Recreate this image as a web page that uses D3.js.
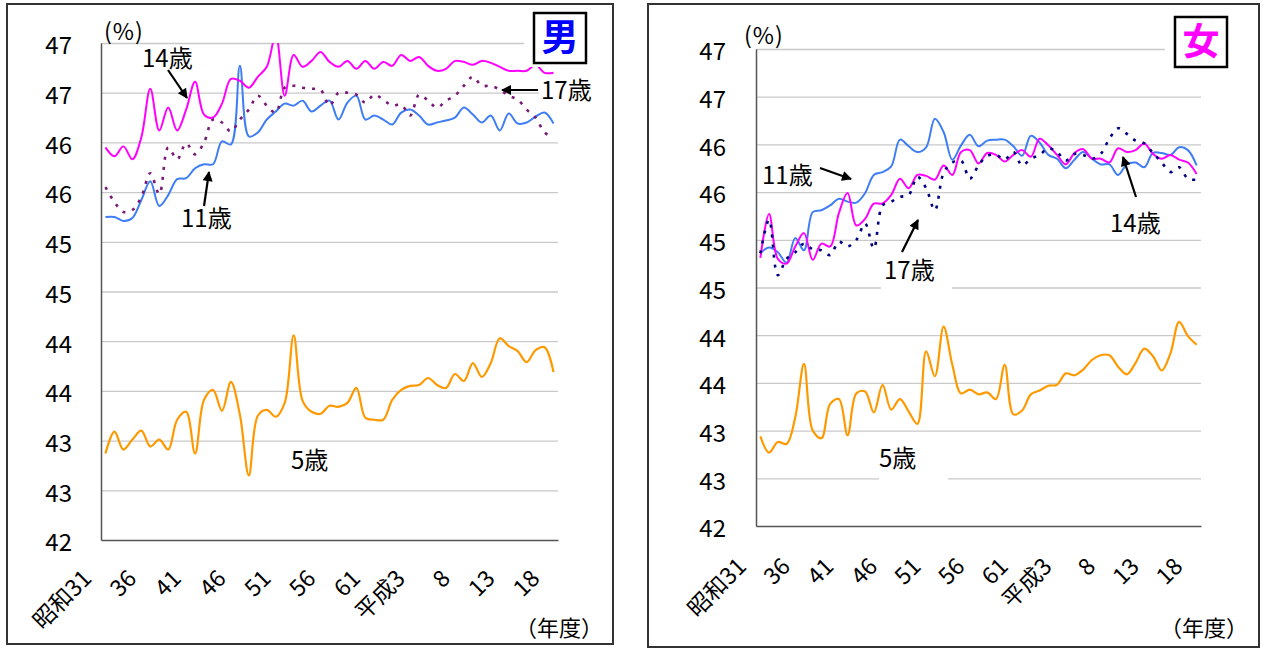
<!DOCTYPE html>
<html><head><meta charset="utf-8">
<script src="https://cdn.jsdelivr.net/npm/d3@7"></script>
<style>
body{margin:0;background:#fff;}
svg text{font-family:"Noto Sans CJK JP","Noto Sans",sans-serif;fill:#000;}
</style></head><body>
<svg id="c" width="1263" height="648"></svg>
<script>
const categories = ["昭和31","昭和32","昭和33","昭和34","昭和35","昭和36","昭和37","昭和38","昭和39","昭和40",
"昭和41","昭和42","昭和43","昭和44","昭和45","昭和46","昭和47","昭和48","昭和49","昭和50",
"昭和51","昭和52","昭和53","昭和54","昭和55","昭和56","昭和57","昭和58","昭和59","昭和60",
"昭和61","昭和62","昭和63","平成元","平成2","平成3","平成4","平成5","平成6","平成7",
"平成8","平成9","平成10","平成11","平成12","平成13","平成14","平成15","平成16","平成17","平成18"];
const xTickCats = ["昭和31","昭和36","昭和41","昭和46","昭和51","昭和56","昭和61","平成3","平成8","平成13","平成18"];
const xTickLabels = ["昭和31","36","41","46","51","56","61","平成3","8","13","18"];
const yTicks = [42,42.5,43,43.5,44,44.5,45,45.5,46,46.5,47];
const yTickLabels = ["42","43","43","44","44","45","45","46","46","47","47"];

const male5 = [42.87,43.09,42.91,43.01,43.10,42.94,43.01,42.91,43.21,43.29,42.87,43.41,43.51,43.30,43.59,43.26,42.65,43.25,43.31,43.24,43.38,44.06,43.40,43.29,43.27,43.35,43.34,43.38,43.53,43.23,43.21,43.21,43.41,43.51,43.55,43.56,43.63,43.56,43.53,43.67,43.60,43.78,43.64,43.78,44.03,43.95,43.90,43.79,43.91,43.94,43.69];
const male11 = [45.25,45.25,45.21,45.24,45.42,45.61,45.36,45.47,45.63,45.64,45.74,45.78,45.78,46.01,45.98,46.77,46.06,46.10,46.23,46.31,46.39,46.37,46.42,46.31,46.37,46.42,46.23,46.40,46.47,46.23,46.27,46.23,46.18,46.30,46.33,46.27,46.18,46.20,46.22,46.25,46.35,46.28,46.20,46.27,46.12,46.29,46.19,46.20,46.26,46.30,46.19];
const male14 = [45.95,45.86,45.96,45.83,46.05,46.54,46.12,46.35,46.12,46.33,46.61,46.28,46.25,46.39,46.64,46.62,46.55,46.66,46.76,47.08,46.47,46.88,46.76,46.82,46.91,46.81,46.76,46.82,46.74,46.82,46.74,46.81,46.77,46.88,46.82,46.86,46.77,46.72,46.74,46.82,46.81,46.78,46.82,46.80,46.76,46.72,46.72,46.72,46.78,46.70,46.70];
const male17 = [45.55,45.40,45.30,45.32,45.45,45.69,45.48,45.95,45.83,45.99,45.88,46.00,46.23,46.20,46.11,46.23,46.33,46.47,46.37,46.30,46.55,46.57,46.55,46.54,46.53,46.37,46.50,46.50,46.48,46.40,46.48,46.43,46.37,46.38,46.27,46.48,46.42,46.35,46.42,46.47,46.57,46.66,46.57,46.57,46.53,46.47,46.43,46.33,46.25,46.10,46.05];

const female5 = [42.94,42.77,42.88,42.86,43.14,43.70,43.00,42.92,43.28,43.33,42.95,43.39,43.41,43.19,43.48,43.22,43.33,43.20,43.07,43.83,43.57,44.09,43.69,43.39,43.43,43.38,43.40,43.33,43.69,43.17,43.21,43.38,43.42,43.47,43.48,43.60,43.58,43.64,43.74,43.79,43.79,43.67,43.59,43.71,43.86,43.78,43.63,43.81,44.14,43.99,43.90];
const female11 = [44.86,44.92,44.87,44.76,45.02,44.89,45.29,45.31,45.36,45.43,45.40,45.39,45.49,45.68,45.71,45.77,46.05,45.98,45.92,45.97,46.27,46.13,45.84,45.99,46.10,45.98,46.04,46.05,46.05,45.98,45.88,46.09,46.02,45.89,45.85,45.75,45.84,45.92,45.85,45.79,45.79,45.68,45.79,45.81,45.76,45.91,45.91,45.89,45.97,45.94,45.78];
const female14 = [44.81,45.27,44.80,44.75,44.93,45.07,44.79,44.96,44.93,45.28,45.49,45.15,45.22,45.38,45.38,45.47,45.64,45.54,45.68,45.67,45.63,45.78,45.68,45.92,45.94,45.80,45.91,45.89,45.82,45.89,45.94,45.87,46.06,45.99,45.89,45.79,45.91,45.95,45.85,45.85,45.81,45.96,45.92,45.94,46.01,45.90,45.85,45.89,45.84,45.81,45.69];
const female17 = [44.86,45.21,44.63,44.80,44.87,44.96,44.90,44.89,44.84,44.98,44.93,45.00,45.17,44.91,45.36,45.40,45.45,45.47,45.66,45.54,45.31,45.70,45.81,45.83,45.64,45.78,45.88,45.89,45.84,45.92,45.78,45.85,45.89,45.96,45.92,45.83,45.90,45.89,45.85,45.90,46.06,46.17,46.11,46.04,46.01,45.91,45.81,45.71,45.76,45.64,45.63];

const svg = d3.select("#c");
const defs = svg.append("defs");
defs.append("marker").attr("id","ah").attr("viewBox","0 0 10 10").attr("refX",9).attr("refY",5)
  .attr("markerWidth",12).attr("markerHeight",10).attr("markerUnits","userSpaceOnUse").attr("orient","auto")
  .append("path").attr("d","M0,0 L10,5 L0,10 Z").attr("fill","#000");

function drawPanel(cfg){
  const g = svg.append("g");
  g.append("rect").attr("x",cfg.fx).attr("y",cfg.fy).attr("width",cfg.fw).attr("height",cfg.fh)
    .attr("fill","#fff").attr("stroke","#333").attr("stroke-width",2);
  const x = d3.scalePoint().domain(categories).range([cfg.x0,cfg.x1]).padding(0.5);
  const y = d3.scaleLinear().domain([42,47]).range([cfg.y1,cfg.y0]);

  // grid
  g.append("g").attr("transform",`translate(${cfg.x0},0)`)
    .call(d3.axisLeft(y).tickValues(yTicks.slice(1)).tickSize(-(cfg.x1-cfg.x0)).tickFormat(""))
    .call(s=>s.select(".domain").remove())
    .selectAll("line").attr("stroke","#c9c9c9").attr("stroke-width",1.3);

  // white label backgrounds
  cfg.boxes.forEach(b=>{
    g.append("rect").attr("x",b[0]).attr("y",b[1]).attr("width",b[2]).attr("height",b[3]).attr("fill","#fff");
  });

  const clipId = "clip"+cfg.id;
  defs.append("clipPath").attr("id",clipId).append("rect")
    .attr("x",cfg.x0).attr("y",cfg.y0).attr("width",cfg.x1-cfg.x0).attr("height",cfg.y1-cfg.y0);

  const line = d3.line().x((d,i)=>x(categories[i])).y(d=>y(d)).curve(d3.curveCatmullRom.alpha(0.5));
  const lg = g.append("g").attr("clip-path",`url(#${clipId})`);
  cfg.series.forEach(s=>{
    lg.append("path").datum(s.data).attr("d",line).attr("fill","none")
      .attr("stroke",s.color).attr("stroke-width",s.w).attr("stroke-linejoin","round")
      .attr("stroke-dasharray",s.dash||null);
  });

  // y axis
  const ya = g.append("g").attr("transform",`translate(${cfg.x0},0)`)
    .call(d3.axisLeft(y).tickValues(yTicks).tickSize(0).tickPadding(cfg.x0-cfg.labR)
      .tickFormat((d,i)=>yTickLabels[i]));
  ya.select(".domain").attr("stroke","#555").attr("stroke-width",1.5);
  ya.selectAll("text").attr("font-size",24).attr("dy","0.45em")
    .attr("font-family",'"Noto Sans CJK JP",sans-serif').attr("fill","#000");

  // x axis
  const xa = g.append("g").attr("transform",`translate(0,${cfg.y1})`)
    .call(d3.axisBottom(x).tickValues(xTickCats).tickSize(0).tickSizeOuter(0)
      .tickFormat(d=>xTickLabels[xTickCats.indexOf(d)]));
  xa.select(".domain").attr("stroke","#555").attr("stroke-width",1.5);
  xa.selectAll("text").attr("font-size",23).attr("x",0).attr("y",0).attr("dy",0)
    .attr("text-anchor","end").attr("transform",`translate(-13,${cfg.xlabOff}) rotate(-45)`)
    .attr("font-family",'"Noto Sans CJK JP",sans-serif').attr("fill","#000");

  // (%) and (年度)
  g.append("text").attr("x",cfg.pctX).attr("y",cfg.pctY).attr("font-size",23).attr("letter-spacing",1).text("(%)");
  g.append("text").attr("x",cfg.nendoX).attr("y",cfg.nendoY).attr("font-size",22).text("（年度）");

  // title box
  g.append("rect").attr("x",cfg.tb[0]-10).attr("y",cfg.tb[1]-4).attr("width",cfg.tb[2]+14).attr("height",cfg.tb[3]+8).attr("fill","#fff");
  g.append("rect").attr("x",cfg.tb[0]).attr("y",cfg.tb[1]).attr("width",cfg.tb[2]).attr("height",cfg.tb[3])
    .attr("fill","#fff").attr("stroke","#000").attr("stroke-width",2.5);
  g.append("text").attr("x",cfg.tb[0]+cfg.tb[2]/2).attr("y",cfg.tb[1]+cfg.tb[3]/2+13).attr("text-anchor","middle")
    .attr("font-size",37).attr("font-weight","bold").style("fill",cfg.titleColor).text(cfg.title);

  // annotations
  cfg.notes.forEach(n=>{
    g.append("text").attr("x",n.tx).attr("y",n.ty).attr("font-size",24).text(n.t);
    if(n.a){
      g.append("line").attr("x1",n.a[0]).attr("y1",n.a[1]).attr("x2",n.a[2]).attr("y2",n.a[3])
        .attr("stroke","#000").attr("stroke-width",2.2).attr("marker-end","url(#ah)");
    }
  });
}

drawPanel({
  id:"m", fx:7, fy:4, fw:606, fh:640,
  x0:101, x1:558, y0:43, y1:540, labR:72, xlabOff:40,
  pctX:104, pctY:40, nendoX:515, nendoY:636,
  tb:[534,13,52,50], title:"男", titleColor:"#0000ff",
  boxes:[[539,76,58,28]],
  series:[
    {data:male5,color:"#ff9900",w:2.2},
    {data:male11,color:"#3f7df5",w:2},
    {data:male14,color:"#ff00ff",w:2},
    {data:male17,color:"#7a1a78",w:2.6,dash:"3,7"}
  ],
  notes:[
    {t:"14歳",tx:142,ty:67,a:[168,70,187,98]},
    {t:"11歳",tx:181,ty:227,a:[204,206,209,172]},
    {t:"17歳",tx:541,ty:99,a:[538,90,502,90]},
    {t:"5歳",tx:291,ty:469}
  ]
});

drawPanel({
  id:"f", fx:648, fy:4, fw:611, fh:643,
  x0:756, x1:1201, y0:49, y1:526, labR:726, xlabOff:42,
  pctX:744, pctY:44, nendoX:1160, nendoY:636,
  tb:[1175,17,52,50], title:"女", titleColor:"#ff00ff",
  boxes:[[881,252,71,38],[879,444,69,38]],
  series:[
    {data:female5,color:"#ff9900",w:2.2},
    {data:female11,color:"#3f7df5",w:2},
    {data:female14,color:"#ff00ff",w:2},
    {data:female17,color:"#000080",w:2.6,dash:"3,7"}
  ],
  notes:[
    {t:"11歳",tx:762,ty:184,a:[820,168,851,179]},
    {t:"17歳",tx:884,ty:279,a:[902,252,918,220]},
    {t:"14歳",tx:1110,ty:232,a:[1136,197,1123,157]},
    {t:"5歳",tx:879,ty:467}
  ]
});
</script>
</body></html>
